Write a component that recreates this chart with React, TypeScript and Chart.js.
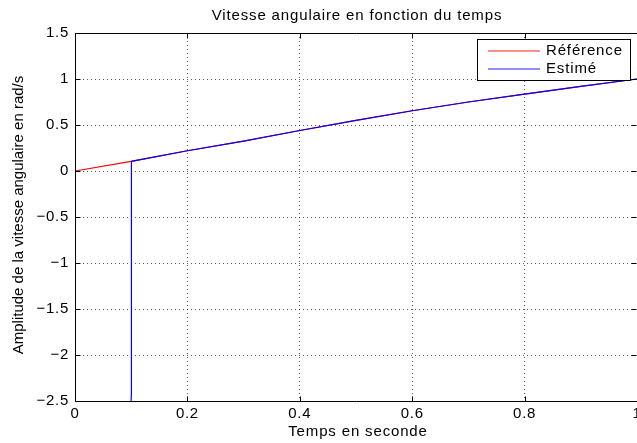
import React, { useEffect, useRef } from "react";
import { Chart, registerables } from "chart.js";

Chart.register(...registerables);

const titleText = "Vitesse angulaire en fonction du temps";
const xAxisTitle = "Temps en seconde";
const yAxisTitle = "Amplitude de la vitesse angulaire en rad/s";
const seriesNames = ["Référence", "Estimé"];

const referenceTimes = [0, 0.1, 0.2, 0.3, 0.4, 0.5, 0.6, 0.7, 0.8, 0.9, 1.0];
const referenceValues = [0, 0.105, 0.22, 0.325, 0.44, 0.55, 0.655, 0.75, 0.835, 0.92, 1.0];

const estimatedTimes = [0.099, 0.1003, 0.1004, 0.2, 0.3, 0.4, 0.5, 0.6, 0.7, 0.8, 0.9, 1.0];
const estimatedValues = [-2.6, -2.43, 0.105, 0.22, 0.325, 0.44, 0.55, 0.655, 0.75, 0.835, 0.92, 1.0];

const xTickValues = [0, 0.2, 0.4, 0.6, 0.8, 1];
const xTickLabels = ["0", "0.2", "0.4", "0.6", "0.8", "1"];
const yTickValues = [-2.5, -2, -1.5, -1, -0.5, 0, 0.5, 1, 1.5];
const yTickLabels = ["\u22122.5", "\u22122", "\u22121.5", "\u22121", "\u22120.5", "0", "0.5", "1", "1.5"];

const FONT = '"Liberation Sans", Arial, Helvetica, sans-serif';

export default function App() {
  const ref = useRef<HTMLCanvasElement>(null);

  useEffect(() => {
    document.body.style.margin = "0";
    const canvas = ref.current;
    if (!canvas) return;

    const overlay = {
      id: "overlay",
      beforeDraw(chart: any) {
        (chart.ctx as any).letterSpacing = "0.7px";
      },
      afterDraw(chart: any) {
        const ctx = chart.ctx as CanvasRenderingContext2D;
        const a = chart.chartArea;
        const xs = chart.scales.x;
        const ys = chart.scales.y;
        ctx.save();
        ctx.setLineDash([]);
        ctx.strokeStyle = "#000";
        ctx.lineWidth = 1;
        const L = Math.round(a.left) + 0.5;
        const R = Math.round(a.right) + 0.5;
        const T = Math.round(a.top) + 0.5;
        const B = Math.round(a.bottom) + 0.5;
        ctx.beginPath();
        ctx.moveTo(L, T);
        ctx.lineTo(R, T);
        ctx.lineTo(R, B);
        ctx.lineTo(L, B);
        ctx.closePath();
        ctx.stroke();
        ctx.beginPath();
        xTickValues.forEach((v) => {
          const px = Math.round(xs.getPixelForValue(v)) + 0.5;
          ctx.moveTo(px, B);
          ctx.lineTo(px, B - 5);
          ctx.moveTo(px, T);
          ctx.lineTo(px, T + 5);
        });
        yTickValues.forEach((v) => {
          const py = Math.round(ys.getPixelForValue(v)) + 0.5;
          ctx.moveTo(L, py);
          ctx.lineTo(L + 5, py);
          ctx.moveTo(R - 1, py);
          ctx.lineTo(R - 6, py);
        });
        ctx.stroke();

        // texts
        ctx.fillStyle = "#000";
        (ctx as any).letterSpacing = "0.85px";
        ctx.font = `15px ${FONT}`;
        ctx.textAlign = "center";
        ctx.textBaseline = "middle";
        const cx = (a.left + a.right) / 2;
        ctx.fillText(titleText, cx + 1, 16);
        ctx.fillText(xAxisTitle, cx + 2, 432);

        ctx.save();
        (ctx as any).letterSpacing = "0px";
        ctx.translate(19, (a.top + a.bottom) / 2 - 2);
        ctx.rotate(-Math.PI / 2);
        ctx.fillText(yAxisTitle, 0, 0);
        ctx.restore();

        // legend
        const lx = 477.5, ly = 39.5, lw = 153, lh = 41;
        ctx.fillStyle = "#fff";
        ctx.fillRect(lx, ly, lw, lh);
        ctx.strokeStyle = "#000";
        ctx.lineWidth = 1;
        ctx.strokeRect(lx, ly, lw, lh);
        const colors = ["#ff2020", "#2020ff"];
        const rows = [51, 69];
        seriesNames.forEach((name, i) => {
          ctx.strokeStyle = colors[i];
          ctx.lineWidth = 1.2;
          ctx.beginPath();
          ctx.moveTo(488, rows[i]);
          ctx.lineTo(540, rows[i]);
          ctx.stroke();
          ctx.fillStyle = "#000";
          ctx.textAlign = "left";
          ctx.textBaseline = "middle";
          ctx.fillText(name, 546, rows[i]);
        });
        ctx.restore();
      },
    };

    const chart = new Chart(canvas, {
      type: "line",
      data: {
        datasets: [
          {
            label: seriesNames[0],
            data: referenceTimes.map((t, i) => ({ x: t, y: referenceValues[i] })),
            borderColor: "#ff0000",
            borderWidth: 1.2,
            pointRadius: 0,
            tension: 0,
            fill: false,
            order: 2,
          },
          {
            label: seriesNames[1],
            data: estimatedTimes.map((t, i) => ({ x: t, y: estimatedValues[i] })),
            borderColor: "#0000ff",
            borderWidth: 1.2,
            pointRadius: 0,
            tension: 0,
            fill: false,
            order: 1,
          },
        ],
      },
      options: {
        responsive: false,
        animation: false,
        layout: { padding: { top: 33, right: 0, left: 0, bottom: 0 } },
        plugins: {
          legend: { display: false },
          title: { display: false },
          tooltip: { enabled: false },
        },
        scales: {
          x: {
            type: "linear",
            min: 0,
            max: 1,
            afterBuildTicks: (scale: any) => {
              scale.ticks = xTickValues.map((v) => ({ value: v }));
            },
            afterFit: (scale: any) => {
              scale.height = 42;
              scale.paddingLeft = 0;
              scale.paddingRight = 0;
            },
            ticks: {
              padding: 4,
              color: "#000",
              maxRotation: 0,
              autoSkip: false,
              font: { size: 15, family: FONT },
              callback: (v: any) => {
                const i = xTickValues.findIndex((t) => Math.abs(t - v) < 1e-9);
                return i >= 0 ? xTickLabels[i] : "";
              },
            },
            grid: {
              color: "rgba(0,0,0,0.65)",
              lineWidth: 1,
              drawTicks: false,
              borderDash: [1, 3],
            },
            border: { display: false, dash: [1, 3] },
          },
          y: {
            type: "linear",
            min: -2.5,
            max: 1.5,
            afterBuildTicks: (scale: any) => {
              scale.ticks = yTickValues.map((v) => ({ value: v }));
            },
            afterFit: (scale: any) => {
              scale.width = 75;
              scale.paddingTop = 0;
              scale.paddingBottom = 0;
            },
            ticks: {
              padding: 6,
              color: "#000",
              autoSkip: false,
              font: { size: 15, family: FONT },
              callback: (v: any) => {
                const i = yTickValues.findIndex((t) => Math.abs(t - v) < 1e-9);
                return i >= 0 ? yTickLabels[i] : "";
              },
            },
            grid: {
              color: "rgba(0,0,0,0.65)",
              lineWidth: 1,
              drawTicks: false,
              borderDash: [1, 3],
            },
            border: { display: false, dash: [1, 3] },
          },
        },
      },
      plugins: [overlay],
    } as any);

    return () => chart.destroy();
  }, []);

  return (
    <div style={{ width: 637, height: 443 }}>
      <canvas ref={ref} width={637} height={443} style={{ width: 637, height: 443, display: "block" }} />
    </div>
  );
}
